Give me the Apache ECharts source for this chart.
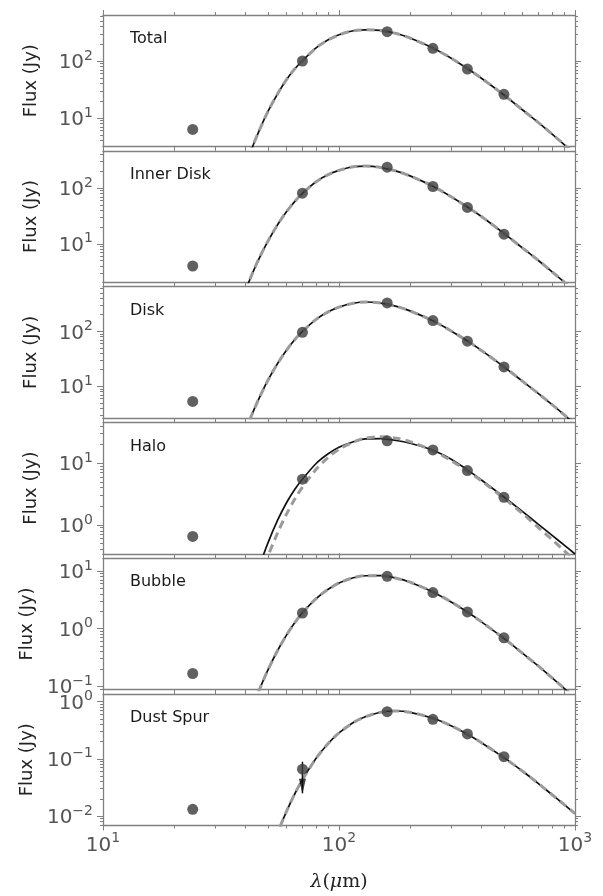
<!DOCTYPE html>
<html>
<head>
<meta charset="utf-8">
<script src="https://cdn.jsdelivr.net/npm/echarts@6/dist/echarts.min.js"></script>
<style>
  html, body { margin: 0; padding: 0; background: #fff; }
  #chart { width: 603px; height: 896px; }
</style>
</head>
<body>
<div id="chart"></div>
<script>
// photometry bands (micron) and measured fluxes (Jy), one list per region
const bandLam = [24, 70, 160, 250, 350, 500];
const totalFlux = [6.3, 100, 327, 167, 72, 26];
const innerDiskFlux = [4.0, 81, 238, 107, 45, 14.9];
const diskFlux = [5.3, 96, 328, 157, 66, 22.5];
const haloFlux = [0.65, 5.5, 23, 16.4, 7.6, 2.8];
const bubbleFlux = [0.166, 1.86, 8.05, 4.2, 1.94, 0.69];
const dustSpurFlux = [0.0131, 0.066, 0.668, 0.49, 0.272, 0.109];

// 70 micron upper limit in the dust spur (arrow from -> to)
const spurLimitLam = 70;
const spurLimit = [0.089, 0.025];

// fitted SED curves
const modelLam = [40, 43, 46, 50, 55, 60, 65, 70, 80, 90, 100, 115, 130, 150, 175, 200, 250, 300, 350, 400, 500, 600, 700, 800, 900, 1000];
const totalModel = [1.39, 3.13, 6.13, 13.0, 26.8, 47.5, 72.9, 101, 170, 235, 288, 339, 352, 344, 303, 253, 169, 111, 73.7, 50.3, 25.3, 13.8, 8.3, 5.2, 3.42, 2.33];
const innerDiskModel = [1.40, 2.99, 5.62, 11.2, 22.3, 38.0, 57.9, 80.7, 130, 175, 208, 242, 249, 235, 202, 166, 108, 69.4, 45.9, 31.3, 15.4, 8.4, 5.02, 3.14, 2.06, 1.39];
const diskModel = [1.49, 3.25, 6.23, 12.9, 26.2, 45.6, 70.9, 99.8, 165, 226, 275, 324, 341, 326, 284, 235, 155, 100.5, 66.6, 45.4, 22.6, 12.3, 7.37, 4.63, 3.03, 2.06];
const haloModelSolid = [0.037, 0.0946, 0.213, 0.511, 1.203, 2.31, 3.79, 5.5, 9.89, 14.2, 18.1, 22.3, 24.7, 25.0, 23.3, 21.0, 16.2, 11.5, 7.8, 5.4, 2.83, 1.64, 1.02, 0.677, 0.47, 0.338];
const haloModelDashed = [0.023, 0.0587, 0.13, 0.313, 0.753, 1.51, 2.62, 4.11, 7.97, 12.45, 16.8, 22.0, 25.5, 26.9, 25.4, 22.3, 16.0, 10.9, 7.46, 5.22, 2.70, 1.52, 0.903, 0.578, 0.382, 0.262];
const bubbleModel = [0.0183, 0.0428, 0.0874, 0.192, 0.42, 0.777, 1.267, 1.878, 3.31, 4.80, 6.16, 7.59, 8.24, 8.25, 7.47, 6.36, 4.32, 2.86, 1.93, 1.32, 0.674, 0.371, 0.2225, 0.1395, 0.0918, 0.0627];
const dustSpurModel = [0.000074, 0.000228, 0.000596, 0.00174, 0.00515, 0.0122, 0.0245, 0.0432, 0.102, 0.1856, 0.2835, 0.43, 0.548, 0.653, 0.686, 0.650, 0.512, 0.375, 0.269, 0.1933, 0.1047, 0.0605, 0.0369, 0.0235, 0.01586, 0.01098];

const panels = [
  { label: 'Total', flux: totalFlux, solid: totalModel, dashed: totalModel, yRange: [3.16, 641] },
  { label: 'Inner Disk', flux: innerDiskFlux, solid: innerDiskModel, dashed: innerDiskModel, yRange: [2.04, 468] },
  { label: 'Disk', flux: diskFlux, solid: diskModel, dashed: diskModel, yRange: [2.64, 650] },
  { label: 'Halo', flux: haloFlux, solid: haloModelSolid, dashed: haloModelDashed, yRange: [0.339, 45.8] },
  { label: 'Bubble', flux: bubbleFlux, solid: bubbleModel, dashed: bubbleModel, yRange: [0.0869, 16.6] },
  { label: 'Dust Spur', flux: dustSpurFlux, solid: dustSpurModel, dashed: dustSpurModel, yRange: [0.00682, 1.36] }
];

const xMajor = [10, 100, 1000];
const xMinor = [20, 30, 40, 50, 60, 70, 80, 90, 200, 300, 400, 500, 600, 700, 800, 900];

const frameColor = '#808080';
const labelColor = '#555';

function majorsIn(r) {
  const out = [];
  for (let e = -4; e <= 4; e++) {
    const v = Math.pow(10, e);
    if (v >= r[0] && v <= r[1]) out.push(v);
  }
  return out;
}
function minorsIn(r) {
  const out = [];
  for (let e = -4; e <= 4; e++) {
    for (let k = 2; k <= 9; k++) {
      const v = k * Math.pow(10, e);
      if (v > r[0] && v < r[1]) out.push(v);
    }
  }
  return out;
}

function powLabel(v) {
  const e = Math.round(Math.log10(v));
  return '{b|10}{s|' + (e < 0 ? '\u2212' + (-e) : e) + '}';
}
const powRich = {
  b: { fontSize: 20, color: labelColor, fontFamily: 'DejaVu Sans', lineHeight: 24, verticalAlign: 'bottom' },
  s: { fontSize: 14, color: labelColor, fontFamily: 'DejaVu Sans', lineHeight: 15, verticalAlign: 'top' }
};

function tickAxis(gridIndex, position, range, ticks, len, withLine) {
  return {
    type: 'log', logBase: 10, gridIndex: gridIndex, position: position,
    min: range[0], max: range[1],
    splitLine: { show: false },
    axisLine: { show: withLine, onZero: false, lineStyle: { color: frameColor, width: 1.3 } },
    axisTick: { show: true, inside: false, length: len, customValues: ticks,
      lineStyle: { color: frameColor, width: 1 } },
    axisLabel: { show: false }
  };
}

const top0 = 15, pitch = 135.8, panelH = 131.5;
const grid = [], xAxis = [], yAxis = [], series = [], title = [];

panels.forEach(function (p, i) {
  const top = top0 + i * pitch;
  const last = i === panels.length - 1;
  grid.push({ left: 103, right: 28, top: top, height: panelH, outerBoundsMode: 'none' });

  const xi = xAxis.length;
  const xb = tickAxis(i, 'bottom', [10, 1000], xMajor, 5, true);
  if (last) {
    xb.axisLabel = { show: true, customValues: xMajor, margin: 6, fontSize: 20,
      formatter: powLabel, rich: powRich };
    xb.name = '{i|\u03bb}{r|(}{i|\u03bc}{r|m)}';
    xb.nameLocation = 'middle';
    xb.nameGap = 47;
    xb.nameTextStyle = { rich: {
      i: { fontFamily: 'DejaVu Serif', fontStyle: 'italic', fontSize: 19, color: '#222' },
      r: { fontFamily: 'DejaVu Serif', fontSize: 19, color: '#222' }
    } };
  }
  xAxis.push(xb);
  xAxis.push(tickAxis(i, 'bottom', [10, 1000], xMinor, 3, false));
  xAxis.push(tickAxis(i, 'top', [10, 1000], xMajor, 5, true));
  xAxis.push(tickAxis(i, 'top', [10, 1000], xMinor, 3, false));

  const yi = yAxis.length;
  const yMaj = majorsIn(p.yRange), yMin = minorsIn(p.yRange);
  const yl = tickAxis(i, 'left', p.yRange, yMaj, 6, true);
  yl.axisLabel = { show: true, customValues: yMaj, margin: 10, fontSize: 20,
    formatter: powLabel, rich: powRich };
  yl.name = 'Flux (Jy)';
  yl.nameLocation = 'middle';
  yl.nameGap = 63;
  yl.nameTextStyle = { fontFamily: 'DejaVu Sans', fontSize: 18, color: '#222' };
  yAxis.push(yl);
  yAxis.push(tickAxis(i, 'left', p.yRange, yMin, 3, false));
  yAxis.push(tickAxis(i, 'right', p.yRange, yMaj, 6, true));
  yAxis.push(tickAxis(i, 'right', p.yRange, yMin, 3, false));

  const solidData = modelLam.map(function (l, k) { return [l, p.solid[k]]; });
  const dashedData = modelLam.map(function (l, k) { return [l, p.dashed[k]]; });
  const dots = bandLam.map(function (l, k) { return [l, p.flux[k]]; });

  series.push({
    type: 'line', xAxisIndex: xi, yAxisIndex: yi, data: solidData,
    smooth: 0.3, showSymbol: false, symbol: 'none', clip: true, z: 2,
    lineStyle: { color: '#111', width: 1.7 }
  });
  series.push({
    type: 'line', xAxisIndex: xi, yAxisIndex: yi, data: dashedData,
    smooth: 0.3, showSymbol: false, symbol: 'none', clip: true, z: 3,
    lineStyle: { color: '#9b9b9b', width: 3, type: [8, 5] }
  });
  if (last) {
    series.push({
      type: 'line', xAxisIndex: xi, yAxisIndex: yi, z: 4, showSymbol: false, symbol: 'none',
      data: [[spurLimitLam, spurLimit[0]], [spurLimitLam, spurLimit[1]]],
      lineStyle: { color: '#111', width: 1.5 }
    });
    series.push({
      type: 'scatter', xAxisIndex: xi, yAxisIndex: yi, z: 4,
      symbol: 'path://M0,0 L10,0 L5,20 Z', symbolSize: [7, 15], symbolOffset: [0, -7],
      data: [[spurLimitLam, spurLimit[1]]],
      itemStyle: { color: '#111' }
    });
  }
  series.push({
    type: 'scatter', xAxisIndex: xi, yAxisIndex: yi, data: dots, z: 5,
    symbol: 'circle', symbolSize: 11, itemStyle: { color: '#3a3a3a' }
  });

  title.push({
    text: p.label, left: 125, top: top + 11,
    textStyle: { fontFamily: 'DejaVu Sans', fontSize: 16, fontWeight: 'normal', color: '#1a1a1a' }
  });
});

const chart = echarts.init(document.getElementById('chart'), null, { renderer: 'canvas' });
chart.setOption({
  animation: false,
  backgroundColor: '#fff',
  title: title,
  grid: grid,
  xAxis: xAxis,
  yAxis: yAxis,
  series: series
});
</script>
</body>
</html>
